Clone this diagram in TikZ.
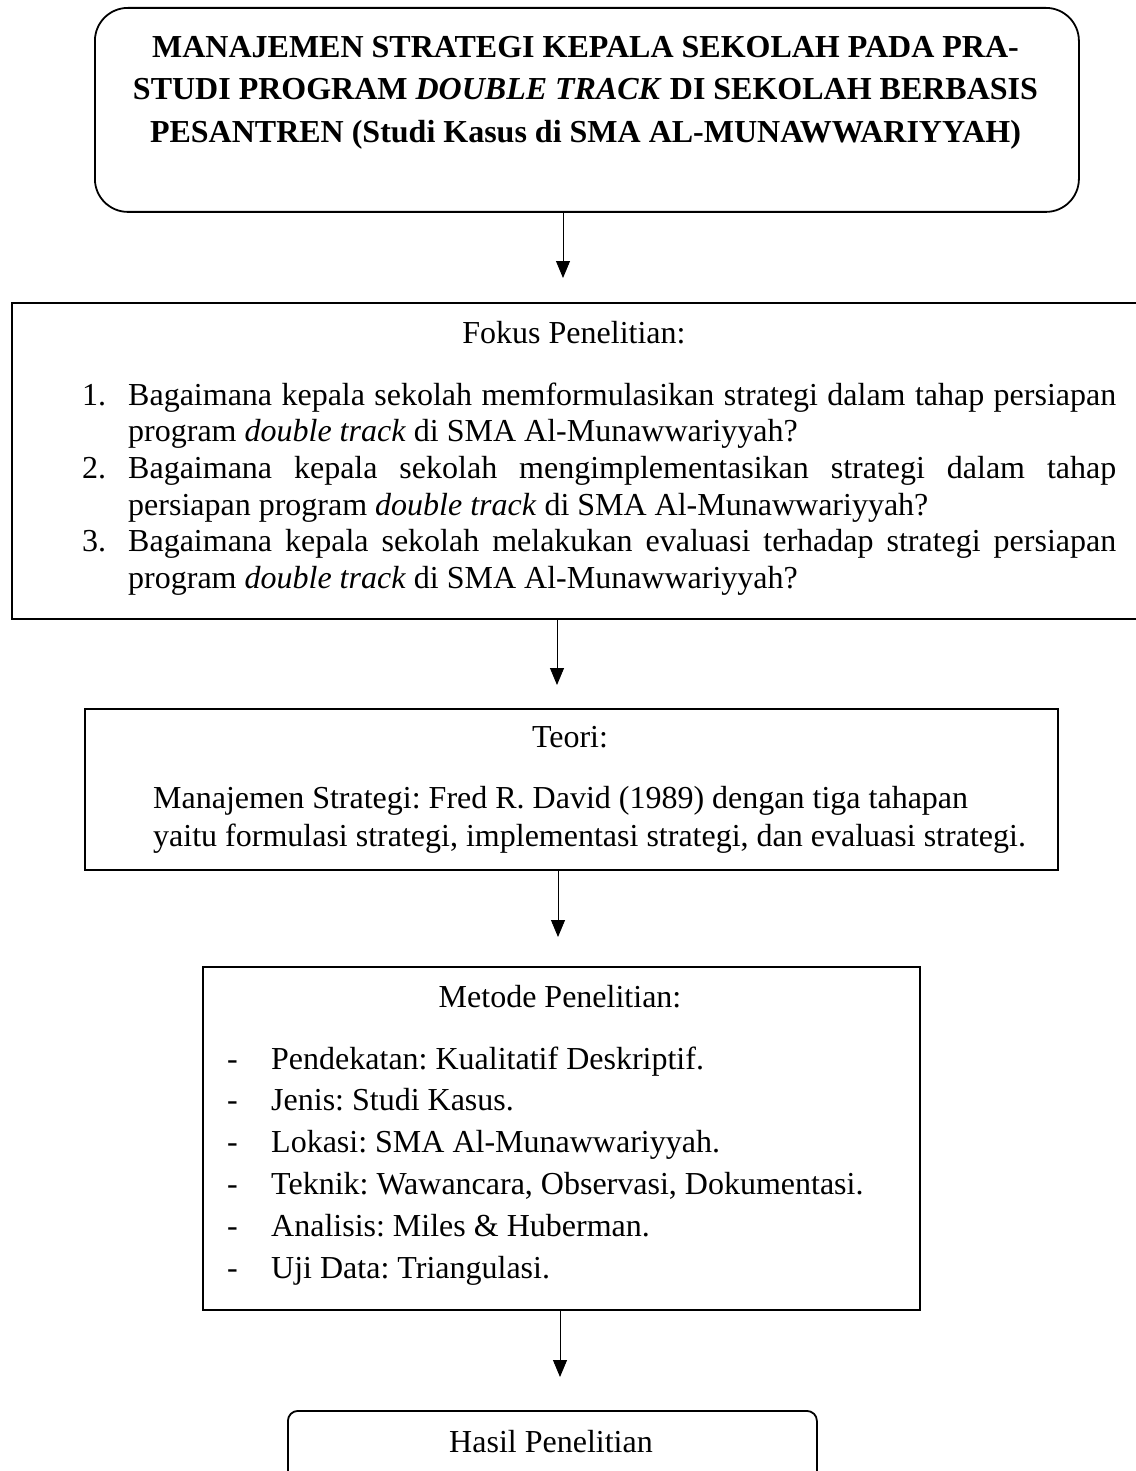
\documentclass[tikz,border=0pt]{standalone}
\usepackage{fontspec}
\setmainfont{Liberation Serif}
\usetikzlibrary{arrows.meta}
\frenchspacing

\begin{document}
\begin{tikzpicture}[x=1pt,y=-1pt]
      % Node styles
      \tikzset{
        framebox/.style={draw, line width=1.8pt, inner sep=0pt, anchor=north west},
        roundbox/.style={framebox, rounded corners=33pt},
        smallround/.style={framebox, rounded corners=10pt},
        txt/.style={inner sep=0pt, font=\fontsize{32pt}{36.7pt}\selectfont},
        arr/.style={-{Triangle[length=17pt,width=14pt]}, line width=0.9pt},
      }
      \useasboundingbox (0,0) rectangle (1135,1471);
      % Boxes
      \node (title) [roundbox, minimum width=984pt, minimum height=204pt] at (94,7) {};
      \node (fokus) [framebox, minimum width=1140pt, minimum height=316pt] at (11,302) {};
      \node (teori) [framebox, minimum width=973pt, minimum height=161pt] at (84,708) {};
      \node (metode) [framebox, minimum width=717pt, minimum height=343pt] at (202,966) {};
      \node (hasil) [smallround, minimum width=529pt, minimum height=80pt] at (287,1410) {};
      % Title text
      \node (title1) [txt, anchor=base, font=\fontsize{32pt}{36.7pt}\selectfont\bfseries] at (585.5,58) {MANAJEMEN STRATEGI KEPALA SEKOLAH PADA PRA-};
      \node (title2) [txt, anchor=base, font=\fontsize{32pt}{36.7pt}\selectfont\bfseries] at (585.5,100) {STUDI PROGRAM \textit{DOUBLE TRACK} DI SEKOLAH BERBASIS};
      \node (title3) [txt, anchor=base, font=\fontsize{32pt}{36.7pt}\selectfont\bfseries] at (585.5,143) {PESANTREN (Studi Kasus di SMA AL-MUNAWWARIYYAH)};
      % Fokus penelitian
      \node (fokushead) [txt, anchor=base] at (574,343) {Fokus Penelitian:};
      \node (num1) [txt, anchor=base west] at (82,405) {1.};
      \node (q1a) [txt, anchor=base west] at (128,405) {\makebox[988pt][s]{Bagaimana kepala sekolah memformulasikan strategi dalam tahap persiapan}};
      \node (q1b) [txt, anchor=base west] at (128,441.7) {program \textit{double track} di SMA Al-Munawwariyyah?};
      \node (num2) [txt, anchor=base west] at (82,478.4) {2.};
      \node (q2a) [txt, anchor=base west] at (128,478.4) {\makebox[988pt][s]{Bagaimana kepala sekolah mengimplementasikan strategi dalam tahap}};
      \node (q2b) [txt, anchor=base west] at (128,515.1) {persiapan program \textit{double track} di SMA Al-Munawwariyyah?};
      \node (num3) [txt, anchor=base west] at (82,551.8) {3.};
      \node (q3a) [txt, anchor=base west] at (128,551.8) {\makebox[988pt][s]{Bagaimana kepala sekolah melakukan evaluasi terhadap strategi persiapan}};
      \node (q3b) [txt, anchor=base west] at (128,588.5) {program \textit{double track} di SMA Al-Munawwariyyah?};
      % Teori
      \node (teorihead) [txt, anchor=base] at (570,747) {Teori:};
      \node (teori1) [txt, anchor=base west] at (153,808) {Manajemen Strategi: Fred R. David (1989) dengan tiga tahapan};
      \node (teori2) [txt, anchor=base west] at (153,846) {yaitu formulasi strategi, implementasi strategi, dan evaluasi strategi.};
      % Metode penelitian
      \node (metodehead) [txt, anchor=base] at (560,1007) {Metode Penelitian:};
      \node (dash1) [txt, anchor=base west] at (227,1069) {-};
      \node (m1) [txt, anchor=base west] at (271,1069) {Pendekatan: Kualitatif Deskriptif.};
      \node (dash2) [txt, anchor=base west] at (227,1110.8) {-};
      \node (m2) [txt, anchor=base west] at (271,1110.8) {Jenis: Studi Kasus.};
      \node (dash3) [txt, anchor=base west] at (227,1152.6) {-};
      \node (m3) [txt, anchor=base west] at (271,1152.6) {Lokasi: SMA Al-Munawwariyyah.};
      \node (dash4) [txt, anchor=base west] at (227,1194.4) {-};
      \node (m4) [txt, anchor=base west] at (271,1194.4) {Teknik: Wawancara, Observasi, Dokumentasi.};
      \node (dash5) [txt, anchor=base west] at (227,1236.2) {-};
      \node (m5) [txt, anchor=base west] at (271,1236.2) {Analisis: Miles \& Huberman.};
      \node (dash6) [txt, anchor=base west] at (227,1278) {-};
      \node (m6) [txt, anchor=base west] at (271,1278) {Uji Data: Triangulasi.};
      % Hasil
      \node (hasiltext) [txt, anchor=base] at (551,1452) {Hasil Penelitian};
      % Arrows
      \coordinate (tip1) at (563,278);
      \coordinate (tip2) at (557,685);
      \coordinate (tip3) at (558,937);
      \coordinate (tip4) at (560,1377);
      \draw[arr] (tip1 |- title.south) -- (tip1);
      \draw[arr] (tip2 |- fokus.south) -- (tip2);
      \draw[arr] (tip3 |- teori.south) -- (tip3);
      \draw[arr] (tip4 |- metode.south) -- (tip4);
\end{tikzpicture}
\end{document}
